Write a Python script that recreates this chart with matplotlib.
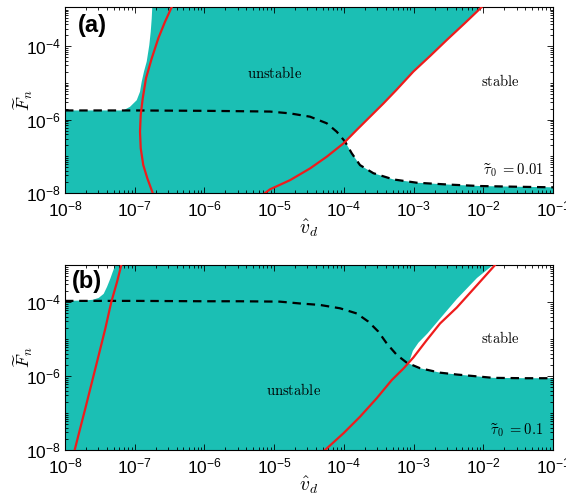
import numpy as np
import matplotlib
matplotlib.use("Agg")
import matplotlib.pyplot as plt
from matplotlib.ticker import FixedLocator, FuncFormatter, NullFormatter

plt.rcParams['font.family'] = ['Liberation Sans', 'DejaVu Sans']
plt.rcParams['mathtext.fontset'] = 'custom'
plt.rcParams['mathtext.rm'] = 'Liberation Sans'
plt.rcParams['mathtext.it'] = 'Liberation Sans:italic'
plt.rcParams['mathtext.bf'] = 'Liberation Sans:bold'

# ---------------- data (log10 exponents) ----------------
x_ticks_exp = [-8, -7, -6, -5, -4, -3, -2, -1]
y_ticks_exp = [-8, -6, -4]
x_range_exp = [-8, -1]
a_y_range_exp = [-8, -2.93]
b_y_range_exp = [-8, -3.0]

# panel (a), tau0 = 0.01
a_white_left_logx = [-8.0, -7.5, -7.164, -7.067, -6.971, -6.924, -6.900, -6.867, -6.828, -6.791, -6.770, -6.756, -6.748]
a_white_left_logy = [-5.75, -5.75, -5.75, -5.65, -5.47, -5.24, -4.97, -4.69, -4.42, -3.97, -3.60, -3.24, -2.93]
a_dash_logx = [-8.0, -7.0, -6.0, -5.5, -5.059, -4.772, -4.485, -4.245, -4.102, -3.983, -3.886,
               -3.768, -3.577, -3.290, -2.954, -2.5, -2.05, -1.5, -1.0]
a_dash_logy = [-5.75, -5.75, -5.76, -5.77, -5.78, -5.83, -5.92, -6.10, -6.33, -6.60, -6.92,
               -7.24, -7.46, -7.63, -7.72, -7.77, -7.81, -7.83, -7.845]
a_red_left_logx = [-6.469, -6.565, -6.661, -6.756, -6.838, -6.885, -6.914, -6.924, -6.914, -6.877, -6.819, -6.742]
a_red_left_logy = [-2.93, -3.33, -3.78, -4.33, -4.87, -5.42, -5.87, -6.33, -6.78, -7.24, -7.60, -8.00]
a_red_right_logx = [-5.13, -5.059, -4.772, -4.485, -4.245, -4.007, -3.815, -3.624, -3.433, -3.251,
                    -3.003, -2.760, -2.524, -2.270, -2.022]
a_red_right_logy = [-8.00, -7.90, -7.65, -7.33, -7.01, -6.65, -6.28, -5.92, -5.56, -5.20,
                    -4.69, -4.26, -3.83, -3.38, -2.93]

# panel (b), tau0 = 0.1
b_white_left_logx = [-8.0, -7.73, -7.60, -7.517, -7.445, -7.397, -7.350, -7.316, -7.278]
b_white_left_logy = [-3.97, -3.96, -3.94, -3.89, -3.78, -3.59, -3.37, -3.19, -3.00]
b_dash_logx = [-8.0, -7.0, -6.0, -5.5, -4.92, -4.628, -4.341, -4.055, -3.815, -3.649, -3.505, -3.385,
               -3.241, -3.098, -2.907, -2.620, -2.380, -1.86, -1.4, -1.0]
b_dash_logy = [-3.97, -3.97, -3.98, -3.98, -3.99, -4.04, -4.08, -4.17, -4.31, -4.53, -4.80, -5.12,
               -5.43, -5.64, -5.79, -5.91, -5.96, -6.05, -6.06, -6.06]
b_red_left_logx = [-7.861, -7.795, -7.709, -7.613, -7.517, -7.422, -7.336, -7.254, -7.192]
b_red_left_logy = [-8.00, -7.51, -6.88, -6.16, -5.44, -4.72, -4.00, -3.46, -3.00]
b_red_right_logx = [-4.270, -4.007, -3.768, -3.528, -3.313, -3.146, -3.003, -2.811, -2.620, -2.380, -2.093, -1.831]
b_red_right_logy = [-8.00, -7.55, -7.10, -6.60, -6.11, -5.80, -5.50, -5.03, -4.58, -4.15, -3.55, -3.00]
b_white_upper_logx = [-3.07, -3.01, -2.93, -2.80, -2.62, -2.38, -2.09, -1.86]
b_white_upper_logy = [-5.66, -5.32, -5.10, -4.85, -4.45, -3.92, -3.35, -3.00]

TEAL = '#1bbfb4'
RED = '#ee1c1c'

def p(v):
    return 10.0 ** np.asarray(v, dtype=float)

fig = plt.figure(figsize=(5.66, 4.95), dpi=100)
ax_a = fig.add_axes([65/566, (495-193)/495, 488/566, 186/495])
ax_b = fig.add_axes([65/566, (495-450)/495, 488/566, 185/495])

xmin, xmax = p(x_range_exp)

def sci(v, pos):
    e = int(round(np.log10(v)))
    return r'$10^{%d}$' % e

def style(ax, yr):
    ax.set_xscale('log')
    ax.set_yscale('log')
    ax.set_xlim(xmin, xmax)
    ax.set_ylim(*p(yr))
    ax.set_facecolor(TEAL)
    ax.xaxis.set_major_locator(FixedLocator(p(x_ticks_exp)))
    ax.yaxis.set_major_locator(FixedLocator(p(y_ticks_exp)))
    xm = [10.0**e * k for e in range(-8, -1) for k in range(2, 10)]
    ym = [10.0**e * k for e in range(-8, -2) for k in range(1, 10) if not (k == 1 and e in y_ticks_exp)]
    ax.xaxis.set_minor_locator(FixedLocator(xm))
    ax.yaxis.set_minor_locator(FixedLocator(ym))
    ax.xaxis.set_minor_formatter(NullFormatter())
    ax.yaxis.set_minor_formatter(NullFormatter())
    ax.xaxis.set_major_formatter(FuncFormatter(sci))
    ax.yaxis.set_major_formatter(FuncFormatter(sci))
    ax.tick_params(which='both', direction='in', top=True, right=True, labelsize=12.5, width=0.6)
    ax.tick_params(which='major', length=4)
    ax.tick_params(which='minor', length=2)
    ax.tick_params(axis='x', pad=4.5)
    ax.tick_params(axis='y', pad=3)
    for s in ax.spines.values():
        s.set_linewidth(0.8)
    ax.set_xlabel(r'$\hat{v}_d$', fontsize=14, math_fontfamily='cm')
    ax.xaxis.set_label_coords(0.5, -0.13)
    ax.set_ylabel(r'$\widetilde{F}_n$', fontsize=13, math_fontfamily='cm')
    ax.yaxis.set_label_coords(-0.061, 0.5)

style(ax_a, a_y_range_exp)
style(ax_b, b_y_range_exp)

lab_kw = dict(fontsize=10.5, math_fontfamily='cm')
dash = (0, (3.8, 2.6))

# ---- panel (a) ----
a_top = p(a_y_range_exp[1])
wx = np.concatenate([p(a_white_left_logx), [xmin]])
wy = np.concatenate([p(a_white_left_logy), [a_top]])
ax_a.fill(wx, wy, color='white', lw=0, zorder=1)
i0 = a_red_right_logx.index(-4.007)
j0 = a_dash_logx.index(-3.983)
rx = np.concatenate([p(a_red_right_logx[i0:]), [xmax], p(a_dash_logx[j0:])[::-1]])
ry = np.concatenate([p(a_red_right_logy[i0:]), [a_top], p(a_dash_logy[j0:])[::-1]])
ax_a.fill(rx, ry, color='white', lw=0, zorder=1)
ax_a.plot(p(a_dash_logx), p(a_dash_logy), color='black', lw=1.6, ls=dash, zorder=3)
ax_a.plot(p(a_red_left_logx), p(a_red_left_logy), color=RED, lw=1.6, zorder=4)
ax_a.plot(p(a_red_right_logx), p(a_red_right_logy), color=RED, lw=1.6, zorder=4)
ax_a.text(0.43, 0.645, r'$\mathrm{unstable}$', transform=ax_a.transAxes, ha='center', va='center', **lab_kw)
ax_a.text(0.893, 0.602, r'$\mathrm{stable}$', transform=ax_a.transAxes, ha='center', va='center', **lab_kw)
ax_a.text(0.98, 0.124, r'$\widetilde{\tau}_0\ \mathrm{=0.01}$', transform=ax_a.transAxes, ha='right',
          va='center', **lab_kw)
ax_a.text(0.027, 0.96, '(a)', transform=ax_a.transAxes, ha='left', va='top',
          fontsize=17, fontweight='bold')

# ---- panel (b) ----
b_top = p(b_y_range_exp[1])
wx = np.concatenate([p(b_white_left_logx), [xmin]])
wy = np.concatenate([p(b_white_left_logy), [b_top]])
ax_b.fill(wx, wy, color='white', lw=0, zorder=1)
j0 = b_dash_logx.index(-3.098)
rx = np.concatenate([p(b_white_upper_logx), [xmax], p(b_dash_logx[j0:])[::-1]])
ry = np.concatenate([p(b_white_upper_logy), [b_top], p(b_dash_logy[j0:])[::-1]])
ax_b.fill(rx, ry, color='white', lw=0, zorder=1)
ax_b.plot(p(b_dash_logx), p(b_dash_logy), color='black', lw=1.6, ls=dash, zorder=3)
ax_b.plot(p(b_red_left_logx), p(b_red_left_logy), color=RED, lw=1.6, zorder=4)
ax_b.plot(p(b_red_right_logx), p(b_red_right_logy), color=RED, lw=1.6, zorder=4)
ax_b.text(0.469, 0.324, r'$\mathrm{unstable}$', transform=ax_b.transAxes, ha='center', va='center', **lab_kw)
ax_b.text(0.893, 0.605, r'$\mathrm{stable}$', transform=ax_b.transAxes, ha='center', va='center', **lab_kw)
ax_b.text(0.98, 0.108, r'$\widetilde{\tau}_0\ \mathrm{=0.1}$', transform=ax_b.transAxes, ha='right',
          va='center', **lab_kw)
ax_b.text(0.014, 0.975, '(b)', transform=ax_b.transAxes, ha='left', va='top',
          fontsize=17, fontweight='bold')

fig.savefig('out.png', dpi=100)
